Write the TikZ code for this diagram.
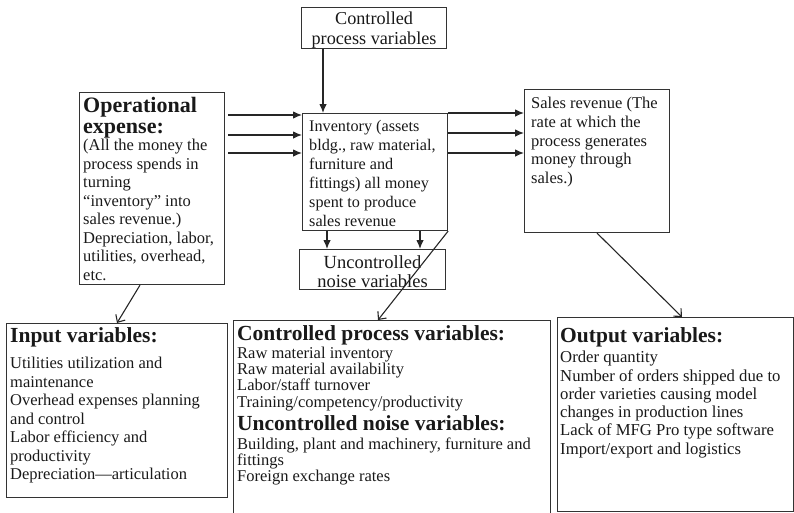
\documentclass[tikz,border=0pt]{standalone}
\usepackage{fontspec}
\setmainfont{Liberation Serif}
\usetikzlibrary{arrows.meta}

\begin{document}
\begin{tikzpicture}[x=1pt,y=-1pt,
  frame/.style={draw=black!80,line width=1.1pt,inner sep=0pt,anchor=north west},
  txt/.style={inner sep=0pt,anchor=north west,align=left,text=black!90},
  head/.style={txt,font=\bfseries\fontsize{21.5}{21}\selectfont},
  body/.style={txt,font=\fontsize{16.5}{18.5}\selectfont},
  solid tip/.style={draw=black!85,line width=1.1pt,-{Latex[length=9pt,width=7.5pt]}},
  open tip/.style={draw=black!85,line width=1.1pt,-{Straight Barb[length=6pt,width=11pt]}}]

\useasboundingbox (0,0) rectangle (794,512);
\clip (0,0) rectangle (794,512);

% ---- boxes of the upper row ----
\node[frame,minimum width=145pt,minimum height=41pt] (cpvTop) at (301,7) {};
\node[frame,minimum width=145pt,minimum height=192pt] (opBox) at (79,92) {};
\node[frame,minimum width=145pt,minimum height=117pt] (invBox) at (302,113) {};
\node[frame,minimum width=146pt,minimum height=40pt] (noiseBox) at (299,249) {};
\node[frame,minimum width=145pt,minimum height=143pt] (salesBox) at (524,89) {};

% ---- boxes of the lower row ----
\node[frame,minimum width=221pt,minimum height=174pt] (inBox) at (6,323) {};
\node[frame,minimum width=317pt,minimum height=200pt] (cpvBox) at (233,320) {};
\node[frame,minimum width=236pt,minimum height=194pt] (outBox) at (557,317) {};

% ---- texts (canvas y points up, so a negative yshift moves text down) ----
\node[txt,anchor=center,align=center,font=\fontsize{18.2}{20}\selectfont] (cpvTopT)
  at ([yshift=-2.5pt]cpvTop.center) {Controlled\\process variables};
\node[txt,anchor=center,align=center,font=\fontsize{18.5}{19}\selectfont] (noiseT)
  at ([yshift=-2pt]noiseBox.center) {Uncontrolled\\noise variables};

\node[head,font=\bfseries\fontsize{22}{21}\selectfont] (opHead) at (83,97) {Operational\\expense:};
\node[body,font=\fontsize{16.5}{18.5}\selectfont] (opBody) at (83,139) {(All the money the\\process spends in\\turning\\“inventory” into\\sales revenue.)\\Depreciation, labor,\\utilities, overhead,\\etc.};

\node[body,font=\fontsize{16.2}{19}\selectfont] (invT) at (309,120)
  {Inventory (assets\\bldg., raw material,\\furniture and\\fittings) all money\\spent to produce\\sales revenue};

\node[body,font=\fontsize{16.5}{18.7}\selectfont] (salesT) at (531,97)
  {Sales revenue (The\\rate at which the\\process generates\\money through\\sales.)};

\node[head] (inHead) at (10,327) {Input variables:};
\node[body] (inBody) at (10,357) {Utilities utilization and\\maintenance\\Overhead expenses planning\\and control\\Labor efficiency and\\productivity\\Depreciation—articulation};

\node[head] (cpvHead) at (237,325) {Controlled process variables:};
\node[body,font=\fontsize{16.5}{16.4}\selectfont] (cpvBody) at (237,346.5)
  {Raw material inventory\\Raw material availability\\Labor/staff turnover\\Training/competency/productivity};
\node[head] (ncvHead) at (237,415) {Uncontrolled noise variables:};
\node[body,font=\fontsize{16.5}{16}\selectfont] (ncvBody) at (237,438)
  {Building, plant and machinery, furniture and\\fittings\\Foreign exchange rates};

\node[head] (outHead) at (560,327) {Output variables:};
\node[body,font=\fontsize{16.7}{18.3}\selectfont] (outBody) at (560,351)
  {Order quantity\\Number of orders shipped due to\\order varieties causing model\\changes in production lines\\Lack of MFG Pro type software\\Import/export and logistics};

% ---- connectors ----
\foreach \yy in {115,135,153}{
  \draw[solid tip] ([xshift=3pt]opBox.east |- 0,\yy) -- (invBox.west |- 0,\yy);
}
\foreach \yy in {113,133,153}{
  \draw[solid tip] (invBox.east |- 0,\yy) -- (salesBox.west |- 0,\yy);
}
\draw[solid tip] (cpvTop.south -| 323,0) -- (invBox.north -| 323,0);
\draw[solid tip] (invBox.south -| 327,0) -- (noiseBox.north -| 327,0);
\draw[solid tip] (invBox.south -| 420,0) -- (noiseBox.north -| 420,0);

\coordinate (opOut) at (opBox.south -| 140,0);
\coordinate (inIn) at (inBox.north -| 117,0);
\draw[open tip] (opOut) -- (inIn);

\coordinate (cpvIn) at (cpvBox.north -| 378,0);
\draw[open tip] (invBox.south east) -- (cpvIn);

\coordinate (salesOut) at (salesBox.south -| 597,0);
\coordinate (outIn) at (outBox.north -| 682,0);
\draw[open tip] (salesOut) -- (outIn);

\end{tikzpicture}
\end{document}
